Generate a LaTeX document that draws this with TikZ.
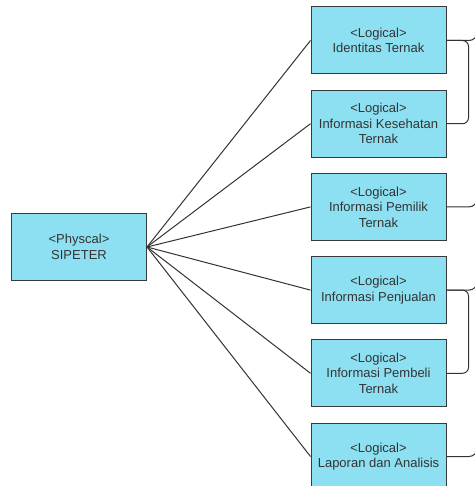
\documentclass[tikz,border=0pt]{standalone}
\usepackage{fontspec}
\setmainfont{Liberation Sans}
\usetikzlibrary{positioning}
\definecolor{boxfill}{RGB}{141,224,242}
\definecolor{boxline}{RGB}{54,57,61}
\definecolor{txt}{RGB}{51,51,51}
\begin{document}
\begin{tikzpicture}[x=1pt, y=1pt, node distance={83.2pt}, line width=1pt, main/.style = {draw=boxline, fill=boxfill, text=txt, minimum width=135pt, minimum height=67pt, align=center, inner sep=2pt, font=\fontsize{13}{15.5}\selectfont}, link/.style = {draw=txt, line width=1pt}]
\useasboundingbox (0,0) rectangle (474,-486);
\node[main] (sip) at (79,-247) {<Physcal>\\SIPETER};
\node[main] (l1) at (378.5,-40.5) {<Logical>\\Identitas Ternak};
\node[main] (l2) [below of=l1] {<Logical>\\Informasi Kesehatan\\Ternak};
\node[main] (l3) [below of=l2] {<Logical>\\Informasi Pemilik\\Ternak};
\node[main] (l4) [below of=l3] {<Logical>\\Informasi Penjualan};
\node[main] (l5) [below of=l4] {<Logical>\\Informasi Pembeli\\Ternak};
\node[main] (l6) [below of=l5] {<Logical>\\Laporan dan Analisis};
\draw[link] (sip.east) -- (l1.west);
\draw[link] (sip.east) -- (l2.west);
\draw[link] (sip.east) -- (l3.west);
\draw[link] (sip.east) -- (l4.west);
\draw[link] (sip.east) -- (l5.west);
\draw[link] (sip.east) -- (l6.west);
% brackets on the right
\draw[link, rounded corners=6pt] (l1.east) -- ++(22,0) |- (l2.east);
\draw[link, rounded corners=6pt] (l4.east) -- ++(22,0) |- (l5.east);
% lines leaving the picture
\coordinate (o1) at (477,-10);
\coordinate (o3) at (477,-175);
\coordinate (o4) at (477,-258);
\coordinate (o6) at (477,-425);
\draw[link, rounded corners=8pt] (l1.east) -| (o1);
\draw[link, rounded corners=8pt] (l3.east) -| (o3);
\draw[link, rounded corners=8pt] (l4.east) -| (o4);
\draw[link, rounded corners=8pt] (l6.east) -| (o6);
\end{tikzpicture}
\end{document}
